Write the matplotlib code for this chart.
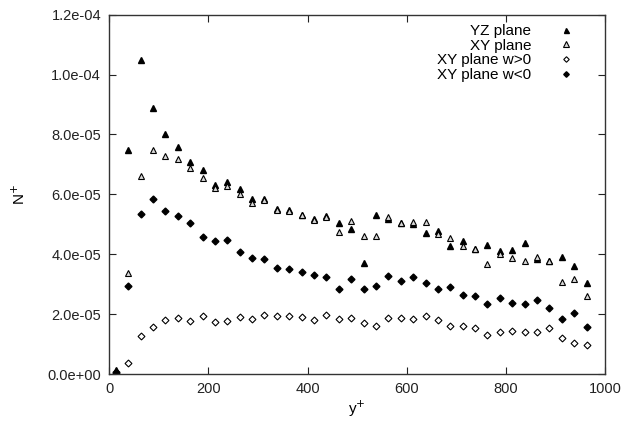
import matplotlib
matplotlib.use("Agg")
import matplotlib.pyplot as plt
from matplotlib.ticker import FormatStrFormatter

plt.rcParams["font.family"] = ["Liberation Sans", "DejaVu Sans"]

# wall-normal positions (y+) shared by every series
y_plus = [13, 38, 63, 88, 113, 138, 163, 188, 213, 238, 263, 288, 313, 338,
          363, 388, 413, 438, 463, 488, 513, 538, 563, 588, 613, 638, 663,
          688, 713, 738, 763, 788, 813, 838, 863, 888, 913, 938, 963]

# values in units of 1e-5
yz_plane = [0.15, 7.47, 10.49, 8.9, 8.02, 7.58, 7.09, 6.81, 6.31, 6.40, 6.17,
            5.85, 5.85, 5.51, 5.48, 5.31, 5.17, 5.28, 5.03, 4.83, 3.72, 5.32,
            5.17, 5.03, 5.01, 4.72, 4.79, 4.28, 4.45, 4.16, 4.32, 4.12, 4.14,
            4.37, 3.85, 3.78, 3.92, 3.62, 3.03]
xy_plane = [0.1, 3.36, 6.62, 7.48, 7.29, 7.17, 6.87, 6.54, 6.20, 6.29, 6.01,
            5.72, 5.82, 5.48, 5.44, 5.31, 5.14, 5.24, 4.73, 5.10, 4.60, 4.61,
            5.23, 5.03, 5.08, 5.06, 4.68, 4.53, 4.29, 4.16, 3.69, 4.00, 3.86,
            3.78, 3.90, 3.78, 3.07, 3.16, 2.61]
xy_wpos = [0.02, 0.37, 1.27, 1.58, 1.82, 1.86, 1.78, 1.93, 1.73, 1.76, 1.92,
           1.83, 1.97, 1.93, 1.94, 1.91, 1.81, 1.98, 1.85, 1.88, 1.69, 1.61,
           1.88, 1.86, 1.84, 1.95, 1.79, 1.60, 1.59, 1.53, 1.30, 1.40, 1.43,
           1.40, 1.40, 1.53, 1.20, 1.05, 0.96]
xy_wneg = [0.06, 2.94, 5.33, 5.83, 5.43, 5.29, 5.04, 4.58, 4.43, 4.48, 4.06,
           3.86, 3.85, 3.53, 3.51, 3.39, 3.30, 3.25, 2.85, 3.16, 2.85, 2.94,
           3.27, 3.11, 3.23, 3.05, 2.83, 2.90, 2.64, 2.61, 2.33, 2.55, 2.38,
           2.33, 2.46, 2.19, 1.84, 2.05, 1.58]

scale = 1e-5

fig = plt.figure(figsize=(6.23, 4.25), dpi=100)
ax = fig.add_axes([0.1755, 0.12, 0.7955, 0.8454])

ax.plot(y_plus, [v * scale for v in yz_plane], linestyle="none", marker="^",
        markersize=4.5, color="black", label="YZ plane")
ax.plot(y_plus, [v * scale for v in xy_plane], linestyle="none", marker="^",
        markersize=5, markerfacecolor="#d8d8d8", markeredgecolor="black",
        markeredgewidth=0.8, label="XY plane")
ax.plot(y_plus, [v * scale for v in xy_wpos], linestyle="none", marker="D",
        markersize=3.5, markerfacecolor="white", markeredgecolor="black",
        markeredgewidth=0.8, label="XY plane w>0")
ax.plot(y_plus, [v * scale for v in xy_wneg], linestyle="none", marker="D",
        markersize=3.5, color="black", label="XY plane w<0")

ax.set_xlim(0, 1000)
ax.set_ylim(0, 1.2e-4)
ax.set_xticks([0, 200, 400, 600, 800, 1000])
ax.set_yticks([0, 2e-5, 4e-5, 6e-5, 8e-5, 1e-4, 1.2e-4])
ax.yaxis.set_major_formatter(FormatStrFormatter("%.1e"))
ax.tick_params(direction="in", top=True, right=True, length=5, width=0.8,
               labelsize=10.5, colors="#222222", pad=6)
for s in ax.spines.values():
    s.set_linewidth(1.0)
    s.set_color("#333333")

ax.set_xlabel("y$^{+}$", fontsize=11, labelpad=2)
ax.set_ylabel("N$^{+}$", fontsize=11, labelpad=14)

ax.legend(loc="upper right", frameon=False, markerfirst=False, fontsize=11,
          markerscale=0.8, handlelength=1.0, handletextpad=1.8,
          labelspacing=0.05, borderaxespad=0.2, bbox_to_anchor=(0.956, 1.0))

fig.savefig("out.png", dpi=100)
